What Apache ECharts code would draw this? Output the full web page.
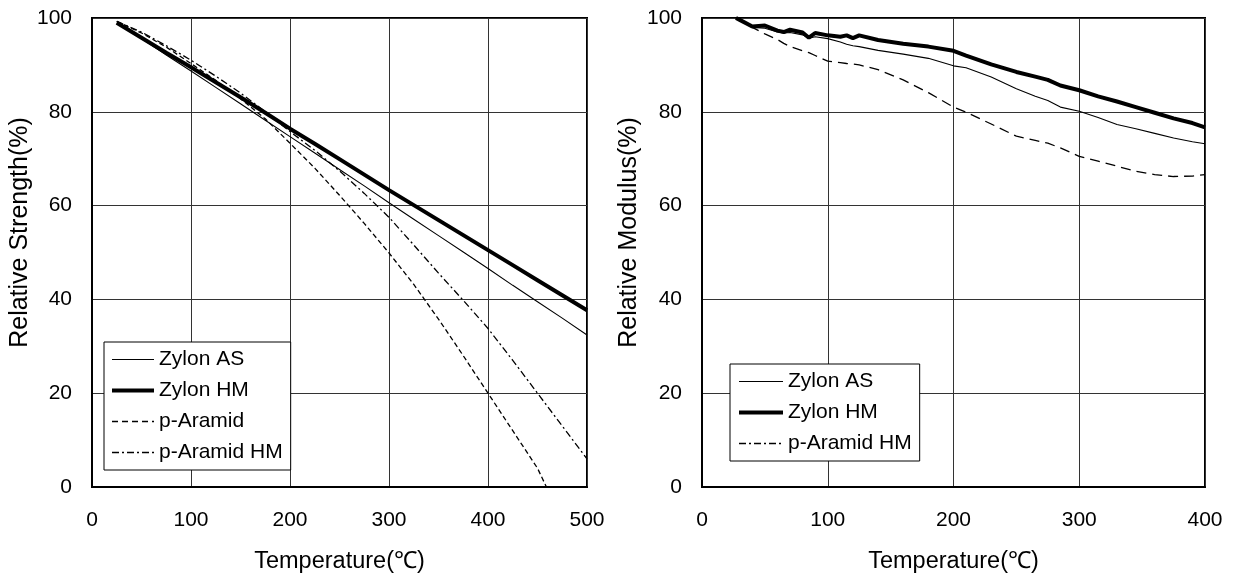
<!DOCTYPE html>
<html>
<head>
<meta charset="utf-8">
<script src="https://cdn.jsdelivr.net/npm/echarts@6/dist/echarts.min.js"></script>
<style>
html,body{margin:0;padding:0;background:#fff;}
#c{width:1239px;height:579px;}
</style>
</head>
<body>
<div id="c"></div>
<script>
// ---- Left chart: relative strength ----
const strengthTemps = [25,50,75,100,125,150,175,200,225,250,275,300,325,350,375,400,425,450,475,500];
const zylonAS_S   = [99.0,95.6,92.1,88.7,85.2,81.7,78.2,74.7,71.2,67.7,64.2,60.6,57.1,53.6,50.1,46.6,43.0,39.5,36.0,32.4];
const zylonHM_S   = [99.0,95.8,92.6,89.5,86.3,83.1,79.8,76.4,73.2,69.9,66.6,63.3,60.1,56.9,53.7,50.5,47.3,44.1,40.9,37.7];
const pAramidHM_S = [99.3,97.0,94.1,91.0,87.6,84.0,80.0,75.8,71.8,67.4,62.6,57.5,51.6,45.6,39.8,33.8,27.0,20.0,13.0,6.0];
const pAramidTemps = [25,50,75,100,125,150,175,200,225,250,275,300,325,350,375,400,425,450,459];
const pAramid_S   = [99.3,96.8,93.8,90.3,86.7,82.8,78.5,73.3,68.0,62.2,56.2,49.9,43.2,35.8,28.0,20.0,12.0,4.0,0];

// ---- Right chart: relative modulus ----
const modulusTemps = [27,30,40,50,60,65,70,80,85,90,100,110,115,120,125,140,160,180,200,210,230,250,265,275,285,300,315,330,345,360,375,390,400];
const zylonHM_M   = [100,99.6,98.2,98.4,97.3,97.0,97.5,96.9,95.8,96.8,96.3,96.0,96.3,95.7,96.3,95.3,94.5,93.9,93.0,92.0,90.1,88.5,87.5,86.8,85.6,84.6,83.3,82.2,81.0,79.8,78.6,77.6,76.7];
const zylonAS_M   = [100,99.6,98.0,97.8,97.0,96.8,96.9,96.4,95.7,96.0,95.6,94.9,94.4,94.1,93.9,93.1,92.3,91.4,89.8,89.4,87.4,84.9,83.3,82.4,81.0,80.1,78.8,77.3,76.4,75.4,74.4,73.6,73.2];
const pAramidHM_M = [100,99.5,98.0,96.6,95.4,94.6,93.9,93.0,92.6,92.0,90.8,90.5,90.3,90.2,90.0,89.0,86.8,84.1,81.0,79.9,77.4,74.8,73.9,73.3,72.3,70.5,69.5,68.4,67.3,66.6,66.2,66.3,66.6];

const xTicksLeft = [0,100,200,300,400,500];
const xTicksRight = [0,100,200,300,400];
const yTicks = [0,20,40,60,80,100];

const FONT = 'Arial, "Liberation Sans", sans-serif';
const pairs = (xs, ys) => xs.map((x, i) => [x, ys[i]]);

function xAxis(gridIndex, ticks) {
  return {
    type: 'value', gridIndex,
    min: ticks[0], max: ticks[ticks.length - 1], interval: ticks[1] - ticks[0],
    name: 'Temperature(℃)', nameLocation: 'middle', nameGap: 63,
    nameTextStyle: { fontFamily: FONT, fontSize: 23.5, color: '#000' },
    axisLine: { show: true, lineStyle: { color: '#000', width: 2 } },
    axisTick: { show: false },
    axisLabel: { fontFamily: FONT, fontSize: 21, color: '#000', margin: 23 },
    splitLine: { show: true, lineStyle: { color: '#333', width: 1 } }
  };
}
function yAxis(gridIndex, name, gap) {
  return {
    type: 'value', gridIndex,
    min: yTicks[0], max: yTicks[yTicks.length - 1], interval: yTicks[1] - yTicks[0],
    name, nameLocation: 'middle', nameGap: gap, nameRotate: 90,
    nameTextStyle: { fontFamily: FONT, fontSize: 25, color: '#000', padding: [0, 0, 0, 40] },
    axisLine: { show: true, lineStyle: { color: '#000', width: 2 } },
    axisTick: { show: false },
    axisLabel: { fontFamily: FONT, fontSize: 21, color: '#000', margin: 20 },
    splitLine: { show: true, lineStyle: { color: '#333', width: 1 } }
  };
}
function line(name, data, xi, width, type) {
  return {
    type: 'line', name, data, xAxisIndex: xi, yAxisIndex: xi,
    symbol: 'none', smooth: false, clip: true,
    lineStyle: { color: '#000', width, type },
    itemStyle: { color: '#000' }
  };
}
const legendBase = {
  orient: 'vertical', borderColor: '#000', borderWidth: 1,
  itemWidth: 42, itemHeight: 14, itemGap: 10, backgroundColor: '#fff',
  textStyle: { fontFamily: FONT, fontSize: 21, color: '#000', lineHeight: 20 },
  itemStyle: { opacity: 0 },
  lineStyle: { width: 'inherit' },
  selectedMode: false
};

const chart = echarts.init(document.getElementById('c'), null, { renderer: 'canvas' });
chart.setOption({
  animation: false,
  backgroundColor: '#fff',
  grid: [
    { left: 92, right: 652, top: 18, bottom: 92, show: true, borderColor: '#000', borderWidth: 2, containLabel: false },
    { left: 702, right: 34, top: 18, bottom: 92, show: true, borderColor: '#000', borderWidth: 2, containLabel: false }
  ],
  xAxis: [xAxis(0, xTicksLeft), xAxis(1, xTicksRight)],
  yAxis: [yAxis(0, 'Relative Strength(%)', 54), yAxis(1, 'Relative Modulus(%)', 60)],
  legend: [
    Object.assign({}, legendBase, {
      left: 104, top: 342, padding: [7, 8, 7, 6],
      data: [
        { name: 'Zylon AS', lineStyle: { width: 1 } },
        { name: 'Zylon HM', lineStyle: { width: 4 } },
        { name: 'p-Aramid', lineStyle: { width: 1.4, type: [6, 4] } },
        { name: 'p-Aramid HM', lineStyle: { width: 1.4, type: [7, 3, 2, 3] } }
      ]
    }),
    Object.assign({}, legendBase, {
      left: 730, top: 364, padding: [7, 8, 7, 7], itemWidth: 44,
      data: [
        { name: 'Zylon AS ', lineStyle: { width: 1 } },
        { name: 'Zylon HM ', lineStyle: { width: 4 } },
        { name: 'p-Aramid HM ', lineStyle: { width: 1.4, type: [7, 3, 2, 3] } }
      ],
      formatter: n => n.trim()
    })
  ],
  series: [
    line('Zylon AS', pairs(strengthTemps, zylonAS_S), 0, 1.1),
    line('Zylon HM', pairs(strengthTemps, zylonHM_S), 0, 4),
    line('p-Aramid', pairs(pAramidTemps, pAramid_S), 0, 1.3, [5, 3]),
    line('p-Aramid HM', pairs(strengthTemps, pAramidHM_S), 0, 1.3, [7, 3, 2, 3]),
    line('Zylon AS ', pairs(modulusTemps, zylonAS_M), 1, 1.1),
    line('Zylon HM ', pairs(modulusTemps, zylonHM_M), 1, 4),
    line('p-Aramid HM ', pairs(modulusTemps, pAramidHM_M), 1, 1.3, [10, 6])
  ]
});
</script>
</body>
</html>
